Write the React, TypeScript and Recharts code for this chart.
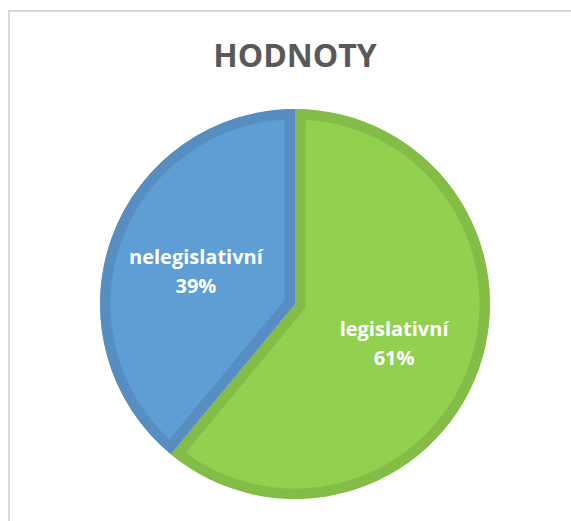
import React from 'react';
import { PieChart, Pie, Cell, Sector } from 'recharts';

const categories = ['legislativní', 'nelegislativní'];
const values = [61, 39];
const percentLabels = ['61%', '39%'];
const fillColors = ['#92D050', '#5E9ED5'];
const borderColors = ['#84BC48', '#568EC2'];

const data = categories.map((name, i) => ({ name, value: values[i], pct: percentLabels[i] }));

const RAD = Math.PI / 180;

const renderShape = (props: any) => {
  const { cx, cy, innerRadius, outerRadius, startAngle, endAngle, index } = props;
  const i = typeof index === 'number' ? index : data.findIndex((d) => d.name === (props.payload?.name ?? props.name));
  const id = `slice-clip-${i}`;
  return (
    <g>
      <defs>
        <clipPath id={id}>
          <Sector cx={cx} cy={cy} innerRadius={innerRadius} outerRadius={outerRadius} startAngle={startAngle} endAngle={endAngle} />
        </clipPath>
      </defs>
      <Sector
        cx={cx}
        cy={cy}
        innerRadius={innerRadius}
        outerRadius={outerRadius}
        startAngle={startAngle}
        endAngle={endAngle}
        fill={fillColors[i]}
        stroke={borderColors[i]}
        strokeWidth={21}
        clipPath={`url(#${id})`}
      />
    </g>
  );
};

const renderLabel = (props: any) => {
  const { cx, cy, midAngle, outerRadius, index } = props;
  const r = outerRadius * 0.54;
  const x = cx + r * Math.cos(-midAngle * RAD);
  const y = cy + r * Math.sin(-midAngle * RAD);
  return (
    <text
      x={x}
      y={y}
      textAnchor="middle"
      fill="#FFFFFF"
      fontFamily="'Open Sans', sans-serif"
      fontWeight={700}
      fontSize={20}
    >
      <tspan x={x} y={y - 4}>{data[index].name}</tspan>
      <tspan x={x} y={y + 25}>{data[index].pct}</tspan>
    </text>
  );
};

export default function App() {
  return (
    <div style={{ position: 'absolute', left: 0, top: 0, width: 571, height: 521, overflow: 'hidden', background: '#fff' }}>
      <div
        style={{
          position: 'absolute',
          left: 8,
          top: 10,
          width: 700,
          height: 700,
          border: '2px solid #D9D9D9',
          boxSizing: 'border-box',
        }}
      />
      <div style={{ position: 'absolute', left: 0, top: 0 }}>
        <PieChart width={571} height={521} margin={{ top: 0, right: 0, bottom: 0, left: 0 }}>
          <Pie
            data={data}
            dataKey="value"
            nameKey="name"
            cx={295}
            cy={304}
            outerRadius={195}
            innerRadius={0}
            startAngle={90}
            endAngle={-270}
            stroke="none"
            isAnimationActive={false}
            shape={renderShape}
            activeShape={renderShape}
            inactiveShape={renderShape}
            label={renderLabel}
            labelLine={false}
          >
            {data.map((d, i) => (
              <Cell key={d.name} fill={fillColors[i]} />
            ))}
          </Pie>
        </PieChart>
      </div>
      <svg style={{ position: 'absolute', left: 0, top: 0 }} width={571} height={100}>
        <text
          x={295}
          y={67}
          textAnchor="middle"
          fill="#595959"
          fontFamily="'Open Sans', sans-serif"
          fontWeight={700}
          fontSize={32}
        >
          HODNOTY
        </text>
      </svg>
    </div>
  );
}
